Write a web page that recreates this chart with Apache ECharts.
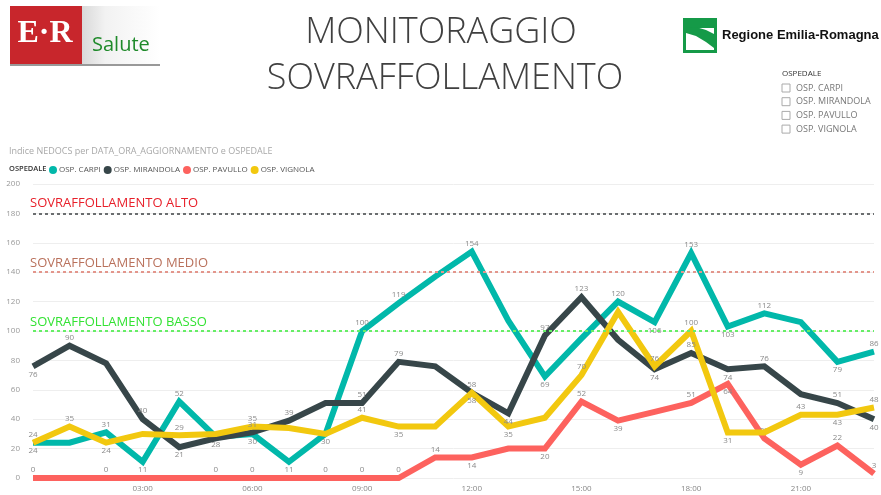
<!DOCTYPE html>
<html><head><meta charset="utf-8">
<script src="https://cdn.jsdelivr.net/npm/echarts@6/dist/echarts.min.js"></script>
<style>html,body{margin:0;padding:0;background:#fff}#c{width:881px;height:495px}</style>
</head><body><div id="c"></div>
<script>
const hours = ['00:00','01:00','02:00','03:00','04:00','05:00','06:00','07:00','08:00','09:00','10:00','11:00','12:00','13:00','14:00','15:00','16:00','17:00','18:00','19:00','20:00','21:00','22:00','23:00'];
const seriesNames = ['OSP. CARPI','OSP. MIRANDOLA','OSP. PAVULLO','OSP. VIGNOLA'];
const carpi     = [24,24,31,11,52,28,30,11,30,100,119,137,154,107,69,95,120,106,153,103,112,106,79,86];
const mirandola = [76,90,78,40,21,27,31,39,51,51,79,76,58,44,97,123,94,74,85,74,76,57,51,40];
const pavullo   = [0,0,0,0,0,0,0,0,0,0,0,14,14,20,20,52,39,45,51,64,27,9,22,3];
const vignola   = [24,35,24,30,29,30,35,34,30,41,35,35,58,35,41,70,113,76,100,31,31,43,43,48];
const yTicks = [0,20,40,60,80,100,120,140,160,180,200];
const thresholds = [180,140,100];
const thresholdNames = ['SOVRAFFOLLAMENTO ALTO','SOVRAFFOLLAMENTO MEDIO','SOVRAFFOLLAMENTO BASSO'];

// label placement per point (style): t = above, b = below, '' = hidden
const labelPos = [
  ['b','','t','b','t','b','b','b','b','t','t','','t','','b','','t','b','t','b','t','','b','t'],
  ['b','t','','t','b','','t','t','','t','t','','b','b','t','t','','b','t','b','t','','t','b'],
  ['t','','t','','','t','t','','t','t','t','t','b','','b','t','b','','t','b','t','b','t','t'],
  ['t','t','b','','t','','t','','','t','b','','t','b','','t','','t','t','b','','t','b','t']
];
const colors = ['#01B8AA','#374649','#FD625E','#F2C80F'];
const thrColors = ['#6b6e70','#e3968c','#66ee66'];
const thrTextColors = ['#e8202a','#b9715c','#33e233'];
const thrTextGap = [4, 2, 2];

const values = [carpi, mirandola, pavullo, vignola];
const chart = echarts.init(document.getElementById('c'));

const series = values.map((vals, si) => ({
  name: seriesNames[si],
  type: 'line',
  data: vals.map((v, i) => ({
    value: v,
    label: labelPos[si][i] ? {show: true, position: labelPos[si][i] === 't' ? 'top' : 'bottom'} : {show: false}
  })),
  symbol: 'circle',
  symbolSize: 0.1,
  showSymbol: true,
  lineStyle: {width: 6, color: colors[si], join: 'miter'},
  itemStyle: {color: colors[si]},
  label: {fontSize: 8, color: '#8a8a8a', distance: 4, fontFamily: 'Open Sans'},
  labelLayout: {hideOverlap: false},
  z: si === 2 ? 3 : 4,
  markLine: si === 0 ? {
    silent: true,
    symbol: 'none',
    data: thresholds.map((t, k) => ({
      yAxis: t,
      lineStyle: {color: thrColors[k], type: [3,3], width: 2},
      label: {show: true, position: 'insideStartTop', formatter: thresholdNames[k], color: thrTextColors[k], fontSize: 13, fontFamily: 'Open Sans', distance: [-3, thrTextGap[k]]}
    }))
  } : undefined
}));

chart.setOption({
  animation: false,
  color: colors,
  grid: {left: 33, right: 7, top: 184, bottom: 17},
  legend: {
    left: 44, top: 161, icon: 'circle', itemWidth: 8, itemHeight: 8, itemGap: 3,
    textStyle: {fontSize: 8, color: '#555', fontFamily: 'Open Sans', padding: [0,0,0,-3]},
    data: seriesNames
  },
  xAxis: {
    type: 'category', data: hours, boundaryGap: false,
    axisLine: {show: false}, axisTick: {show: false},
    axisLabel: {color: '#888', fontSize: 8, fontFamily: 'Open Sans', margin: 7,
      interval: (i) => i % 3 === 0 && i > 0}
  },
  yAxis: {
    type: 'value', min: yTicks[0], max: yTicks[yTicks.length-1], interval: 20,
    axisLabel: {color: '#999', fontSize: 8, fontFamily: 'Open Sans', margin: 13},
    splitLine: {lineStyle: {color: '#eeeeee'}}
  },
  graphic: [
    // E-R Salute logo
    {type:'rect', shape:{x:82,y:6,width:78,height:60}, style:{fill:new echarts.graphic.LinearGradient(0,0,1,0,[{offset:0,color:'#d9d9d9'},{offset:0.3,color:'#f2f2f2'},{offset:1,color:'#ffffff'}])}},
    {type:'rect', shape:{x:10,y:6,width:72,height:60}, style:{fill:'#c8262c'}},
    {type:'rect', shape:{x:10,y:64,width:150,height:2}, style:{fill:'#999'}},
    {type:'text', x:45, y:34, style:{text:'E·R', fill:'#fff', font:'bold 32px "Liberation Serif", serif', textAlign:'center', textVerticalAlign:'middle'}},
    {type:'text', x:92, y:45, style:{text:'Salute', fill:'#1f8a2a', font:'20px "Open Sans", sans-serif', textVerticalAlign:'middle'}},
    // Title
    {type:'text', x:441, y:33, style:{text:'MONITORAGGIO', fill:'#404040', font:'300 36px "Open Sans", sans-serif', textAlign:'center', textVerticalAlign:'middle'}},
    {type:'text', x:445, y:79, style:{text:'SOVRAFFOLLAMENTO', fill:'#404040', font:'300 36px "Open Sans", sans-serif', textAlign:'center', textVerticalAlign:'middle'}},
    // Regione logo
    {type:'rect', shape:{x:683,y:18,width:34,height:35}, style:{fill:'#159a48'}},
    {type:'rect', shape:{x:686,y:28,width:28,height:22}, style:{fill:'#fff'}},
    {type:'polygon', shape:{points:[[686,28],[696,27],[706,30],[714,34],[714,48],[706,42],[696,36],[686,33]]}, style:{fill:'#159a48'}},
    {type:'text', x:722, y:35, style:{text:'Regione Emilia-Romagna', fill:'#111', font:'bold 13px "Liberation Sans", Arial, sans-serif', textVerticalAlign:'middle'}},
    // slicer
    {type:'text', x:782, y:74, style:{text:'OSPEDALE', fill:'#333', font:'8px "Open Sans", sans-serif', textVerticalAlign:'middle'}},
    ...seriesNames.map((n,i)=>({type:'rect', shape:{x:782,y:84+i*13.7,width:8,height:8}, style:{fill:'#fff', stroke:'#aaa', lineWidth:1}})),
    ...seriesNames.map((n,i)=>({type:'text', x:796, y:88+i*13.7, style:{text:n, fill:'#777', font:'9px "Open Sans", sans-serif', textVerticalAlign:'middle'}})),
    // subtitle & legend title
    {type:'text', x:9, y:151, style:{text:'Indice NEDOCS per DATA_ORA_AGGIORNAMENTO e OSPEDALE', fill:'#a8a8a8', font:'9px "Open Sans", sans-serif', textVerticalAlign:'middle'}},
    {type:'text', x:9, y:169, style:{text:'OSPEDALE', fill:'#333', font:'600 7.5px "Open Sans", sans-serif', textVerticalAlign:'middle'}}
  ],
  series: series
});
</script></body></html>
